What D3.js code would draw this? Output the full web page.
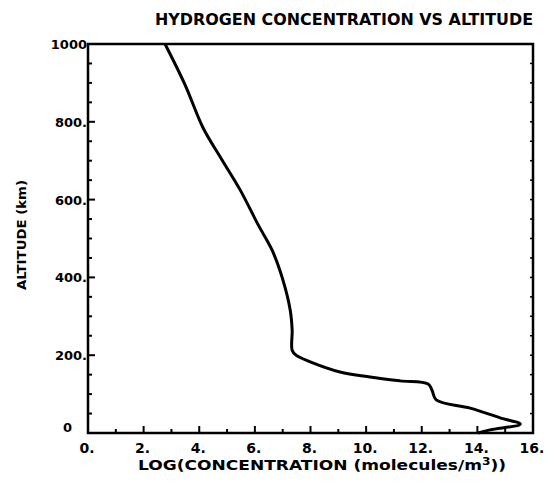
<!DOCTYPE html>
<html>
<head>
<meta charset="utf-8">
<script src="https://cdn.jsdelivr.net/npm/d3@7"></script>
<style>
  body { margin: 0; background: #fff; }
  text { font-family: "DejaVu Sans", sans-serif; font-weight: bold; fill: #000; }
</style>
</head>
<body>
<div id="chart"></div>
<script>
// values: log10 concentration vs altitude (km)
const logConc = [2.77, 3.49, 4.14, 4.82, 5.47, 6.12, 6.62, 7.01, 7.27, 7.34, 7.34, 7.48, 7.99, 9.06, 10.14, 11.22, 12.23, 12.37, 12.52, 13.74, 14.82, 15.54, 14.46, 14.03];
const altitude = [1000, 895, 784, 702, 625, 535, 470, 393, 316, 265, 213, 200, 183, 157, 144, 134, 126, 110, 85, 64, 39, 23, 8, 0];

const xTickLabels = ["0.", "2.", "4.", "6.", "8.", "10.", "12.", "14.", "16."];
const yTickLabels = ["0", "200.", "400.", "600.", "800.", "1000"];

var width = 549;
var height = 482;

const svg = d3
  .select("#chart")
  .append("svg")
  .attr("width", width)
  .attr("height", height);

const x = d3.scaleLinear().domain([0, 16]).range([88, 533]);
const y = d3.scaleLinear().domain([0, 1000]).range([433, 44]);

// frame
svg
  .append("rect")
  .attr("x", x(0))
  .attr("y", y(1000))
  .attr("width", x(16) - x(0))
  .attr("height", y(0) - y(1000))
  .attr("fill", "none")
  .attr("stroke", "#000")
  .attr("stroke-width", 2.5);

// x ticks, pointing inward
d3.range(0, 17).forEach(function (v) {
  const len = v % 2 === 0 ? 7 : 4;
  svg
    .append("line")
    .attr("x1", x(v))
    .attr("x2", x(v))
    .attr("y1", y(0))
    .attr("y2", y(0) - len)
    .attr("stroke", "#000")
    .attr("stroke-width", 2);
});

// y ticks on left and right
d3.range(0, 1001, 50).forEach(function (h) {
  const len = h % 200 === 0 ? 7 : 4;
  svg
    .append("line")
    .attr("x1", x(0))
    .attr("x2", x(0) + len)
    .attr("y1", y(h))
    .attr("y2", y(h))
    .attr("stroke", "#000")
    .attr("stroke-width", 2);
  svg
    .append("line")
    .attr("x1", x(16))
    .attr("x2", x(16) - 3)
    .attr("y1", y(h))
    .attr("y2", y(h))
    .attr("stroke", "#000")
    .attr("stroke-width", 1.5);
});

// x tick labels
xTickLabels.forEach(function (lab, i) {
  svg
    .append("text")
    .attr("x", x(i * 2) - 1)
    .attr("y", 453)
    .attr("text-anchor", "middle")
    .attr("font-size", 14)
    .text(lab);
});

// y tick labels
yTickLabels.forEach(function (lab, i) {
  const h = i * 200;
  svg
    .append("text")
    .attr("x", h === 0 ? 72 : 87)
    .attr("y", h === 0 ? y(h) - 1 : y(h) + 5)
    .attr("text-anchor", "end")
    .attr("font-size", 13)
    .text(lab);
});

// curve
const pts = logConc.map(function (v, i) { return [v, altitude[i]]; });
const line = d3.line()
  .x(function (d) { return x(d[0]); })
  .y(function (d) { return y(d[1]); })
  .curve(d3.curveCatmullRom.alpha(0.5));

svg
  .append("path")
  .attr("d", line(pts))
  .attr("fill", "none")
  .attr("stroke", "#000")
  .attr("stroke-width", 3)
  .attr("stroke-linejoin", "round");

// title
svg
  .append("text")
  .attr("x", 155)
  .attr("y", 25)
  .attr("font-size", 16)
  .attr("textLength", 378)
  .attr("lengthAdjust", "spacingAndGlyphs")
  .text("HYDROGEN CONCENTRATION VS ALTITUDE");

// x axis title
const xt = svg
  .append("text")
  .attr("x", 138)
  .attr("y", 470)
  .attr("font-size", 14)
  .attr("textLength", 368)
  .attr("lengthAdjust", "spacingAndGlyphs");
xt.append("tspan").text("LOG(CONCENTRATION (molecules/m");
xt.append("tspan").attr("dy", -5).attr("font-size", 10).text("3");
xt.append("tspan").attr("dy", 5).text("))");

// y axis title
svg
  .append("text")
  .attr("transform", "translate(26,235) rotate(-90)")
  .attr("text-anchor", "middle")
  .attr("font-size", 13)
  .attr("textLength", 110)
  .attr("lengthAdjust", "spacingAndGlyphs")
  .text("ALTITUDE (km)");
</script>
</body>
</html>
